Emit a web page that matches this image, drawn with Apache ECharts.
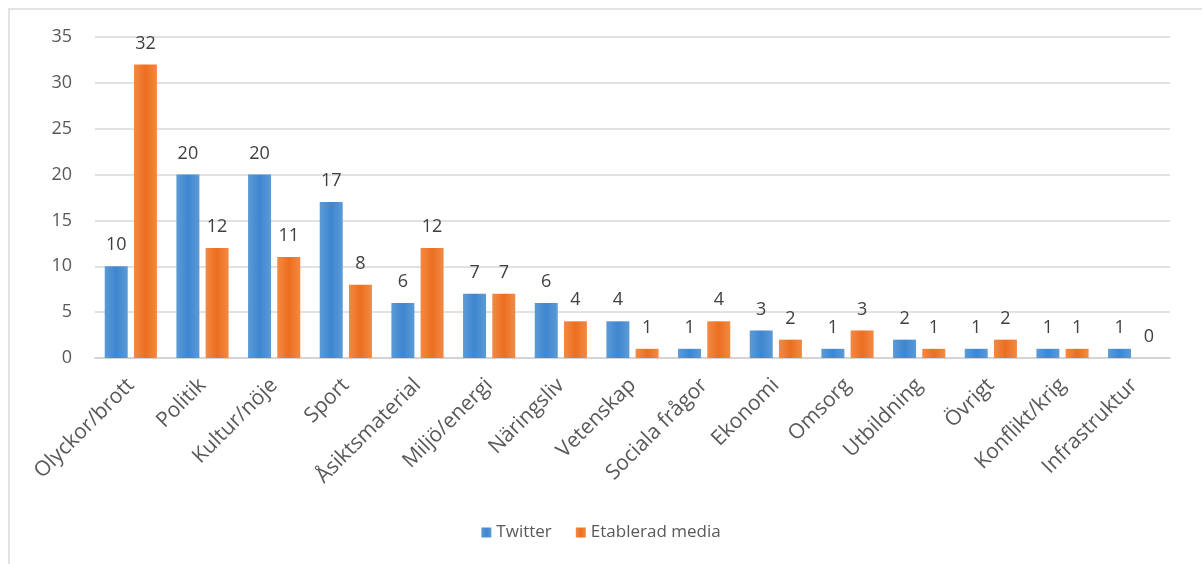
<!DOCTYPE html>
<html>
<head>
<meta charset="utf-8">
<script src="https://cdn.jsdelivr.net/npm/echarts@6/dist/echarts.min.js"></script>
<style>
  html, body { margin: 0; padding: 0; background: #fff; }
  #frame {
    position: absolute; left: 8px; top: 8px; width: 1194px; height: 556px;
    border-top: 2px solid #e3e3e3; border-left: 2px solid #e3e3e3;
    box-sizing: border-box;
  }
  #chart { position: absolute; left: 0; top: 0; width: 1202px; height: 564px; }
</style>
</head>
<body>
<div id="frame"></div>
<div id="chart"></div>
<script>
var categories = ['Olyckor/brott', 'Politik', 'Kultur/nöje', 'Sport', 'Åsiktsmaterial',
  'Miljö/energi', 'Näringsliv', 'Vetenskap', 'Sociala frågor', 'Ekonomi',
  'Omsorg', 'Utbildning', 'Övrigt', 'Konflikt/krig', 'Infrastruktur'];
var twitter = [10, 20, 20, 17, 6, 7, 6, 4, 1, 3, 1, 2, 1, 1, 1];
var media = [32, 12, 11, 8, 12, 7, 4, 1, 4, 2, 3, 1, 2, 1, 0];
var yTicks = { min: 0, max: 35, interval: 5 };

var chart = echarts.init(document.getElementById('chart'));

// Excel-ish gradient fill
function grad (light, dark) {
  return new echarts.graphic.LinearGradient(0, 0, 1, 0, [
    { offset: 0, color: light },
    { offset: 0.5, color: dark },
    { offset: 1, color: light }
  ]);
}

var labelStyle = {
  show: true,
  position: 'top',
  distance: 12,
  color: '#404040',
  fontSize: 18,
  fontFamily: 'Open Sans'
};

var option = {
  animation: false,
  textStyle: { fontFamily: 'Open Sans' },
  grid: { left: 95, right: 32, top: 37, bottom: 206 },
  legend: {
    bottom: 18,
    left: 'center',
    itemWidth: 10,
    itemHeight: 10,
    itemGap: 24,
    icon: 'rect',
    textStyle: { color: '#595959', fontSize: 17, fontFamily: 'Open Sans' },
    data: ['Twitter', 'Etablerad media']
  },
  xAxis: {
    type: 'category',
    data: categories,
    axisTick: { show: false },
    axisLine: { lineStyle: { color: '#d0d0d0', width: 1.5 } },
    axisLabel: {
      rotate: 45,
      interval: 0,
      margin: 24,
      color: '#595959',
      fontSize: 21,
      fontFamily: 'Open Sans'
    }
  },
  yAxis: {
    type: 'value',
    min: yTicks.min,
    max: yTicks.max,
    interval: yTicks.interval,
    axisLine: { show: false },
    axisTick: { show: false },
    splitLine: { lineStyle: { color: '#d9d9d9', width: 1.5 } },
    axisLabel: { color: '#595959', fontSize: 18, margin: 23, fontFamily: 'Open Sans' }
  },
  series: [
    {
      name: 'Twitter',
      type: 'bar',
      data: twitter,
      barWidth: 23,
      barGap: '27%',
      itemStyle: { color: grad('#5b9bd5', '#3f86d0') },
      label: labelStyle
    },
    {
      name: 'Etablerad media',
      type: 'bar',
      data: media,
      barWidth: 23,
      itemStyle: { color: grad('#f28a45', '#ec6e1f') },
      label: labelStyle
    }
  ]
};

chart.setOption(option);
</script>
</body>
</html>
